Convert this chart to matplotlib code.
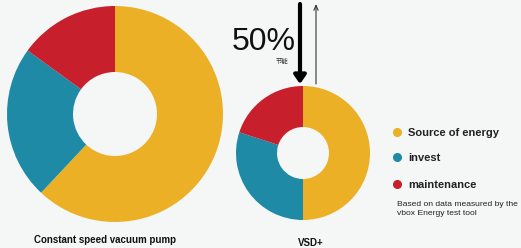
import matplotlib
matplotlib.use('Agg')
import matplotlib.pyplot as plt
import matplotlib.transforms as mtransforms

plt.rcParams['font.family'] = ['Liberation Sans', 'DejaVu Sans']

# shares in percent: source of energy, invest, maintenance
categories = ['Source of energy', 'invest', 'maintenance']
constant_pump = [62, 23, 15]
vsd_pump = [50, 30, 20]
pie_titles = ['Constant speed vacuum pump', 'VSD+']
saving_label = '50%'
saving_sub = '节能'
note = 'Based on data measured by the\nvbox Energy test tool'

colors = ['#ebb025', '#1e8aa6', '#c71f2b']
bg = '#f5f7f7'

fig = plt.figure(figsize=(5.21, 2.48), dpi=100, facecolor=bg)
ax = fig.add_axes([0, 0, 1, 1])
ax.set_facecolor(bg)

# big donut
ax.pie(constant_pump, colors=colors, startangle=90, counterclock=False,
       center=(115, -114), radius=108,
       wedgeprops=dict(width=108 - 42, linewidth=0))
# small donut
ax.pie(vsd_pump, colors=colors, startangle=90, counterclock=False,
       center=(303, -153), radius=67,
       wedgeprops=dict(width=67 - 26, linewidth=0))
# pie works y-up, axes below are pixel-like (y down): flip the wedges
for p in ax.patches:
    p.set_transform(mtransforms.Affine2D().scale(1, -1) + ax.transData)
ax.set_xlim(0, 521)
ax.set_ylim(248, 0)
ax.set_aspect('equal')
ax.axis('off')

# arrows
ax.annotate('', xy=(300, 84), xytext=(300, 4),
            arrowprops=dict(arrowstyle='-|>,head_width=0.35,head_length=0.5',
                            lw=3, color='black', shrinkA=0, shrinkB=0))
ax.annotate('', xy=(316, 4), xytext=(316, 84),
            arrowprops=dict(arrowstyle='->,head_width=0.15,head_length=0.35',
                            lw=0.8, color='#333333', shrinkA=0, shrinkB=0))

ax.text(264, 50, saving_label, fontsize=23, ha='center', va='baseline',
        color='#111111')
ax.text(282, 61, saving_sub, fontsize=4.6, ha='center', va='center',
        family=['Noto Sans CJK SC', 'DejaVu Sans'], color='#333333')

# legend
for i, (cat, c) in enumerate(zip(categories, colors)):
    y = [132, 157, 184][i]
    ax.plot(397, y, 'o', color=c, markersize=5.5)
    ax.text(408, y + 1, cat, fontsize=8, fontweight='bold', va='center',
            color='#222222')
ax.text(397, 209, note, fontsize=6.1, va='center', linespacing=1.4,
        color='#222222')

ax.text(105, 240, pie_titles[0], fontsize=7.0, fontweight='bold',
        ha='center', va='center', color='#111111')
ax.text(311, 243, pie_titles[1], fontsize=7.0, fontweight='bold',
        ha='center', va='center', color='#111111')

fig.savefig('out.png', dpi=100, facecolor=bg)
